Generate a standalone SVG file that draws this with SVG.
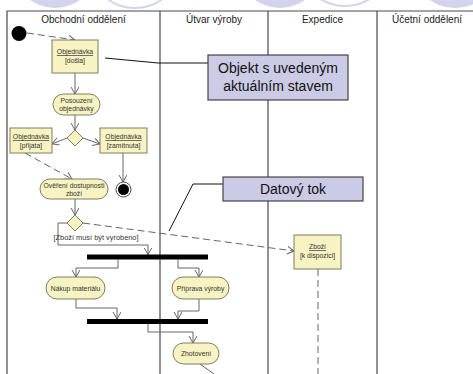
<svg xmlns="http://www.w3.org/2000/svg" width="473" height="374" viewBox="0 0 473 374">
  <style>
    .lane { stroke: #4a4a4a; stroke-width: 1.2; fill: none; }
    .hdr { font-family: "Liberation Sans", Arial, sans-serif; font-size: 10px; fill: #222; text-anchor: middle; }
    .obj { fill: #f8f3c2; stroke: #7e7e60; stroke-width: 1; }
    .act { fill: #f8f3c2; stroke: #7e7e60; stroke-width: 1; }
    .sm { font-family: "Liberation Sans", Arial, sans-serif; font-size: 6.8px; fill: #333; text-anchor: middle; }
    .u { text-decoration: underline; }
    .flow { stroke: #666; stroke-width: 1; fill: none; marker-end: url(#open); }
    .dash { stroke: #666; stroke-width: 1; fill: none; stroke-dasharray: 7 4; }
    .note { fill: #cbcbe6; stroke: #444; stroke-width: 1.2; }
    .ntxt { font-family: "Liberation Sans", Arial, sans-serif; font-size: 14px; fill: #111; text-anchor: middle; }
    .lead { stroke: #111; stroke-width: 1; fill: none; }
    .bar { fill: #000; }
  </style>
  <defs>
    <marker id="open" markerUnits="userSpaceOnUse" markerWidth="10" markerHeight="10" refX="7" refY="4" orient="auto">
      <path d="M0,0 L7,4 L0,8" fill="none" stroke="#666" stroke-width="1"/>
    </marker>
  </defs>

  <rect width="473" height="374" fill="#fff"/>

  <!-- lavender title decoration along the top edge -->
  <g id="title-band" fill="#d3d3ee" stroke="none">
    <circle cx="55" cy="-34" r="42"/>
    <circle cx="135" cy="-38" r="46" fill="none" stroke="#d3d3ee" stroke-width="2"/>
    <circle cx="280" cy="-34" r="42"/>
    <circle cx="345" cy="-40" r="46" fill="none" stroke="#d3d3ee" stroke-width="2"/>
    <circle cx="455" cy="-36" r="44"/>
  </g>

  <!-- swimlane frame -->
  <g id="lanes">
    <path class="lane" d="M7,374 V11 H473 M160,11 V374 M268,11 V374 M377,11 V374"/>
    <text class="hdr" x="83.5" y="23">Obchodní oddělení</text>
    <text class="hdr" x="214" y="23">Útvar výroby</text>
    <text class="hdr" x="322.5" y="23">Expedice</text>
    <text class="hdr" x="427" y="23">Účetní oddělení</text>
  </g>

  <g id="connectors">
    <line class="dash" x1="27" y1="33" x2="75" y2="40" marker-end="url(#open)"/>
    <line class="flow" x1="75" y1="73" x2="75" y2="94"/>
    <line class="flow" x1="75" y1="115" x2="75" y2="130"/>
    <line class="flow" x1="67" y1="138" x2="52" y2="144"/>
    <line class="flow" x1="83" y1="138" x2="100" y2="144"/>
    <line class="flow" x1="123" y1="153" x2="123" y2="182"/>
    <line class="dash" x1="25" y1="153" x2="72" y2="179" marker-end="url(#open)"/>
    <line class="flow" x1="75" y1="199" x2="75" y2="215"/>
    <line class="dash" x1="83" y1="223" x2="294" y2="251" marker-end="url(#open)"/>
    <polyline class="flow" points="67,223 58,223 58,245 148,245 148,254.5"/>
    <polyline class="flow" points="118,259.5 118,268 76,268 76,277"/>
    <polyline class="flow" points="178,259.5 178,268 199,268 199,277"/>
    <polyline class="flow" points="76,299 76,308 117,308 117,319"/>
    <polyline class="flow" points="199,299 199,311 178,311 178,319"/>
    <polyline class="flow" points="148,324 148,332 193,332 193,343"/>
    <line x1="200" y1="364" x2="214" y2="374" stroke="#666" stroke-width="1"/>
    <line class="dash" x1="318" y1="269" x2="318" y2="374"/>
    <!-- note leaders -->
    <polyline class="lead" points="105,58 158,63 208,63"/>
    <polyline class="lead" points="223,184 193,184 169,231"/>
  </g>

  <g id="start">
    <circle cx="19" cy="33.5" r="7.5" fill="#000"/>
  </g>

  <g id="obj-dosla">
    <rect class="obj" x="52" y="40" width="46" height="33"/>
    <text class="sm u" x="75" y="54">Objednávka</text>
    <text class="sm" x="75" y="63">[došla]</text>
  </g>

  <g id="act-posouzeni">
    <rect class="act" x="53" y="94" width="47" height="21" rx="10.5"/>
    <text class="sm" x="76.5" y="103">Posouzení</text>
    <text class="sm" x="76.5" y="111">objednávky</text>
  </g>

  <g id="dec-1">
    <polygon class="act" points="75,130 83,138 75,146 67,138"/>
  </g>

  <g id="obj-prijata">
    <rect class="obj" x="10" y="128" width="42" height="25"/>
    <text class="sm u" x="31" y="139">Objednávka</text>
    <text class="sm" x="31" y="147.5">[přijata]</text>
  </g>

  <g id="obj-zamitnuta">
    <rect class="obj" x="100" y="128" width="47" height="25"/>
    <text class="sm u" x="123.5" y="139">Objednávka</text>
    <text class="sm" x="123.5" y="147.5">[zamítnuta]</text>
  </g>

  <g id="end">
    <circle cx="123.5" cy="189.5" r="7.5" fill="#fff" stroke="#444" stroke-width="1"/>
    <circle cx="123.5" cy="189.5" r="5.5" fill="#000"/>
  </g>

  <g id="act-overeni">
    <rect class="act" x="40" y="179" width="68" height="20" rx="10"/>
    <text class="sm" x="74" y="188">Ověření dostupnosti</text>
    <text class="sm" x="74" y="196">zboží</text>
  </g>

  <g id="dec-2">
    <polygon class="act" points="75,215 83,223 75,231 67,223"/>
    <text class="sm" x="96" y="240" style="font-size:7.4px">[Zboží musí být vyrobeno]</text>
  </g>

  <g id="fork">
    <rect class="bar" x="87" y="254.5" width="121" height="5"/>
  </g>

  <g id="act-nakup">
    <rect class="act" x="46" y="277" width="59" height="22" rx="11"/>
    <text class="sm" x="75.5" y="290.5">Nákup materiálu</text>
  </g>

  <g id="act-priprava">
    <rect class="act" x="172" y="277" width="57" height="22" rx="11"/>
    <text class="sm" x="200.5" y="290.5">Příprava výroby</text>
  </g>

  <g id="join">
    <rect class="bar" x="87" y="319" width="121" height="5"/>
  </g>

  <g id="act-zhotoveni">
    <rect class="act" x="173" y="343" width="46" height="21" rx="10.5"/>
    <text class="sm" x="196" y="356">Zhotovení</text>
  </g>

  <g id="obj-zbozi">
    <rect class="obj" x="294" y="235" width="47" height="34"/>
    <text class="sm u" x="317.5" y="249">Zboží</text>
    <text class="sm" x="317.5" y="258">[k dispozici]</text>
  </g>

  <g id="note-objekt">
    <rect class="note" x="208" y="55" width="140" height="45"/>
    <text class="ntxt" x="278" y="73">Objekt s uvedeným</text>
    <text class="ntxt" x="278" y="91">aktuálním stavem</text>
  </g>

  <g id="note-datovy-tok">
    <rect class="note" x="223" y="177" width="140" height="24"/>
    <text class="ntxt" x="293" y="194">Datový tok</text>
  </g>
</svg>
